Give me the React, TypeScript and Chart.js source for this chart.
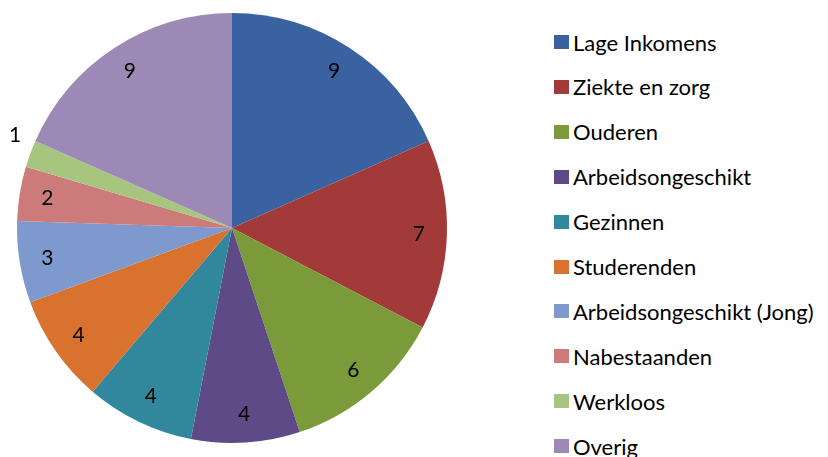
import React, { useEffect, useRef } from "react";
import { Chart, registerables } from "chart.js";

Chart.register(...registerables);

const categories = [
  "Lage Inkomens",
  "Ziekte en zorg",
  "Ouderen",
  "Arbeidsongeschikt",
  "Gezinnen",
  "Studerenden",
  "Arbeidsongeschikt (Jong)",
  "Nabestaanden",
  "Werkloos",
  "Overig",
];
const values = [9, 7, 6, 4, 4, 4, 3, 2, 1, 9];
const colors = [
  "#3B62A0",
  "#A33A3A",
  "#7B9B3A",
  "#5E4A86",
  "#31879C",
  "#D9722E",
  "#7D99CD",
  "#CC7B7A",
  "#A7C57F",
  "#9C89B5",
];

const FONT = "Lato, 'Open Sans', sans-serif";

const labelPlugin = {
  id: "sliceLabels",
  afterDatasetsDraw(chart: any) {
    const ctx = chart.ctx;
    const meta = chart.getDatasetMeta(0);
    ctx.save();
    ctx.fillStyle = "#000";
    ctx.font = `21px ${FONT}`;
    ctx.textAlign = "center";
    ctx.textBaseline = "middle";
    meta.data.forEach((arc: any, i: number) => {
      const { x, y, startAngle, endAngle, outerRadius } = arc.getProps(
        ["x", "y", "startAngle", "endAngle", "outerRadius"],
        true
      );
      const mid = (startAngle + endAngle) / 2;
      const small = values[i] <= 1;
      const r = small ? outerRadius + 21 : outerRadius * 0.87;
      const ang = small ? mid + 0.052 : mid;
      ctx.fillText(String(values[i]), x + Math.cos(ang) * r, y + Math.sin(ang) * r);
    });
    ctx.restore();
  },
};

export default function App() {
  const ref = useRef<HTMLCanvasElement>(null);
  useEffect(() => {
    document.body.style.margin = "0";
    const chart = new Chart(ref.current!, {
      type: "pie",
      data: {
        labels: categories,
        datasets: [
          {
            data: values,
            backgroundColor: colors,
            borderWidth: 0,
          },
        ],
      },
      options: {
        responsive: false,
        animation: false,
        layout: { padding: { left: 17, right: 17, top: 13, bottom: 14 } },
        plugins: {
          legend: { display: false },
          tooltip: { enabled: false },
        },
      },
      plugins: [labelPlugin],
    });
    return () => chart.destroy();
  }, []);

  return (
    <div style={{ position: "relative", width: 828, height: 457, background: "#fff", overflow: "hidden" }}>
      <canvas ref={ref} width={464} height={457} style={{ position: "absolute", left: 0, top: 0 }} />
      <div style={{ position: "absolute", left: 554, top: 20 }}>
        {categories.map((c, i) => (
          <div
            key={c}
            style={{
              position: "absolute",
              top: i * 44.9,
              left: 0,
              height: 44,
              display: "flex",
              alignItems: "center",
              whiteSpace: "nowrap",
              fontFamily: FONT,
              fontSize: 22,
              color: "#000",
            }}
          >
            <span style={{ display: "inline-block", width: 15, height: 14, background: colors[i], marginRight: 4 }} />
            <span>{c}</span>
          </div>
        ))}
      </div>
    </div>
  );
}
